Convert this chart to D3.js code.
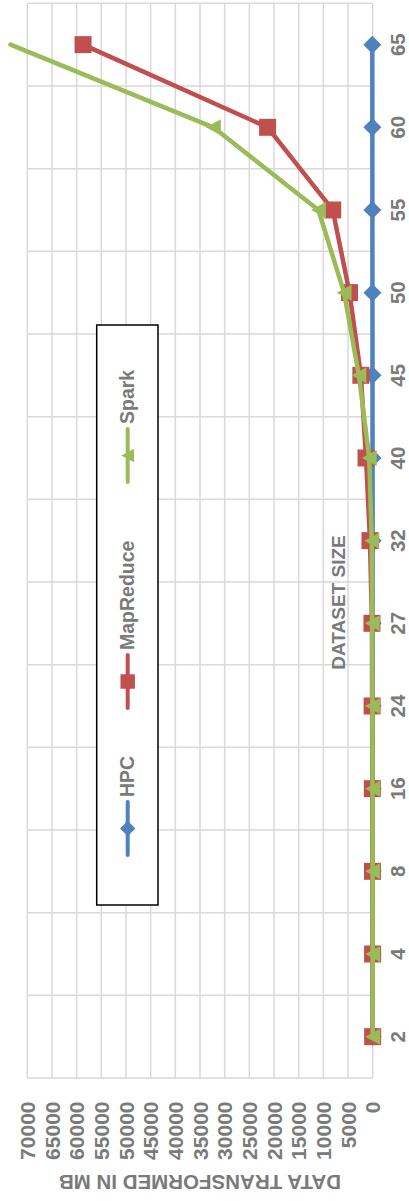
<!DOCTYPE html>
<html><head><meta charset="utf-8">
<script src="https://cdn.jsdelivr.net/npm/d3@7"></script>
<style>html,body{margin:0;padding:0;background:#fff;} svg{display:block}</style>
</head><body>
<svg id="c" width="409" height="1201"></svg>
<script>
// ---- data ----
const categories = ["2","4","8","16","24","27","32","40","45","50","55","60","65"];
const seriesNames = ["HPC","MapReduce","Spark"];
const hpcValues       = [2, 3, 5, 8, 12, 15, 20, 30, 40, 50, 60, 70, 80];
const mapReduceValues = [10, 20, 40, 70, 120, 150, 550, 1350, 2400, 4700, 8100, 21300, 58700];
const sparkValues     = [5, 8, 15, 30, 60, 100, 200, 700, 2800, 5800, 11000, 32300, 73400];
const valueTicks = [0,5000,10000,15000,20000,25000,30000,35000,40000,45000,50000,55000,60000,65000,70000];
const valueTitle = "DATA TRANSFORMED IN MB";
const categoryTitle = "DATASET SIZE";

// ---- drawing (chart built in landscape, then rotated -90deg) ----
const W = 1201, H = 409;
const font = "'Liberation Sans', Arial, sans-serif";
const textColor = "#7a7a7a";
const colors = {HPC:"#4F81BD", MapReduce:"#C0504D", Spark:"#9BBB59"};
const shapes = {
  HPC: s => `M0,${-9*s}L${9*s},0L0,${9*s}L${-9*s},0Z`,
  MapReduce: s => `M${-8.5*s},${-8.5*s}H${8.5*s}V${8.5*s}H${-8.5*s}Z`,
  Spark: s => `M0,${-7.5*s}L${8*s},${7.5*s}L${-8*s},${7.5*s}Z`
};
const data = {HPC:hpcValues, MapReduce:mapReduceValues, Spark:sparkValues};

const svg = d3.select("#c");
svg.append("rect").attr("width",409).attr("height",1201).attr("fill","#fff");
const g = svg.append("g").attr("transform",`translate(0,${W}) rotate(-90)`);

const x = d3.scaleBand().domain(categories).range([123, 1197.7]).paddingInner(0).paddingOuter(0);
const y = d3.scaleLinear().domain([0,70000]).range([372.7, 27.3]);
const cx = c => x(c) + x.bandwidth()/2;

// gridlines: value
g.append("g").selectAll("line").data(valueTicks).join("line")
  .attr("x1",123).attr("x2",1197.7)
  .attr("y1",d=>y(d)).attr("y2",d=>y(d))
  .attr("stroke","#d9d9d9").attr("stroke-width",1.5);
// gridlines: category boundaries
const bounds = categories.map(c=>x(c)).concat([x(categories[categories.length-1])+x.bandwidth()]);
g.append("g").selectAll("line").data(bounds).join("line")
  .attr("x1",d=>d).attr("x2",d=>d)
  .attr("y1",y(70000)).attr("y2",y(0))
  .attr("stroke","#d9d9d9").attr("stroke-width",1.5);

// value axis labels
g.append("g").selectAll("text").data(valueTicks).join("text")
  .attr("x",99.5).attr("y",d=>y(d)).attr("dy","0.36em")
  .attr("text-anchor","end")
  .attr("font-family",font).attr("font-weight","bold").attr("font-size","21px")
  .attr("fill",textColor).text(d=>d);

// category labels
g.append("g").selectAll("text").data(categories).join("text")
  .attr("x",d=>cx(d)).attr("y",404.5)
  .attr("text-anchor","middle")
  .attr("font-family",font).attr("font-weight","bold").attr("font-size","20.5px")
  .attr("fill",textColor).text(d=>d);

// axis titles
g.append("text").attr("transform",`translate(26,${(y(0)+y(70000))/2 + 0}) rotate(-90)`)
  .attr("text-anchor","middle")
  .attr("font-family",font).attr("font-weight","bold").attr("font-size","20.5px")
  .attr("fill",textColor).text(valueTitle);
g.append("text").attr("x",598.5).attr("y",345)
  .attr("text-anchor","middle")
  .attr("font-family",font).attr("font-weight","bold").attr("font-size","19px")
  .attr("fill",textColor).text(categoryTitle);

// series
const line = d3.line().x((d,i)=>cx(categories[i])).y(d=>y(d));
seriesNames.forEach(name=>{
  const vals = data[name];
  const sg = g.append("g");
  sg.append("path").attr("d",line(vals)).attr("fill","none")
    .attr("stroke",colors[name]).attr("stroke-width",4.5)
    .attr("stroke-linejoin","round").attr("stroke-linecap","round");
  sg.selectAll("path.m").data(vals.map((v,i)=>({v,c:categories[i]})).filter(d=>d.v<=y.domain()[1]))
    .join("path").attr("class","m")
    .attr("transform",d=>`translate(${cx(d.c)},${y(d.v)})`)
    .attr("d",shapes[name](1)).attr("fill",colors[name]);
});

// legend
const lg = g.append("g");
lg.append("rect").attr("x",296).attr("y",96.7).attr("width",580).attr("height",61.3)
  .attr("fill","#fff").attr("stroke","#000").attr("stroke-width",1.5);
const legendStarts = [346, 493, 719];
seriesNames.forEach((name,i)=>{
  const x0 = legendStarts[i], ly = 127.7;
  lg.append("line").attr("x1",x0).attr("x2",x0+53).attr("y1",ly).attr("y2",ly)
    .attr("stroke",colors[name]).attr("stroke-width",4).attr("stroke-linecap","round");
  lg.append("path").attr("transform",`translate(${x0+26.5},${ly})`)
    .attr("d",shapes[name](0.85)).attr("fill",colors[name]);
  lg.append("text").attr("x",x0+58).attr("y",133.5)
    .attr("font-family",font).attr("font-weight","bold").attr("font-size","19.5px")
    .attr("fill",textColor).text(name);
});
</script>
</body></html>
